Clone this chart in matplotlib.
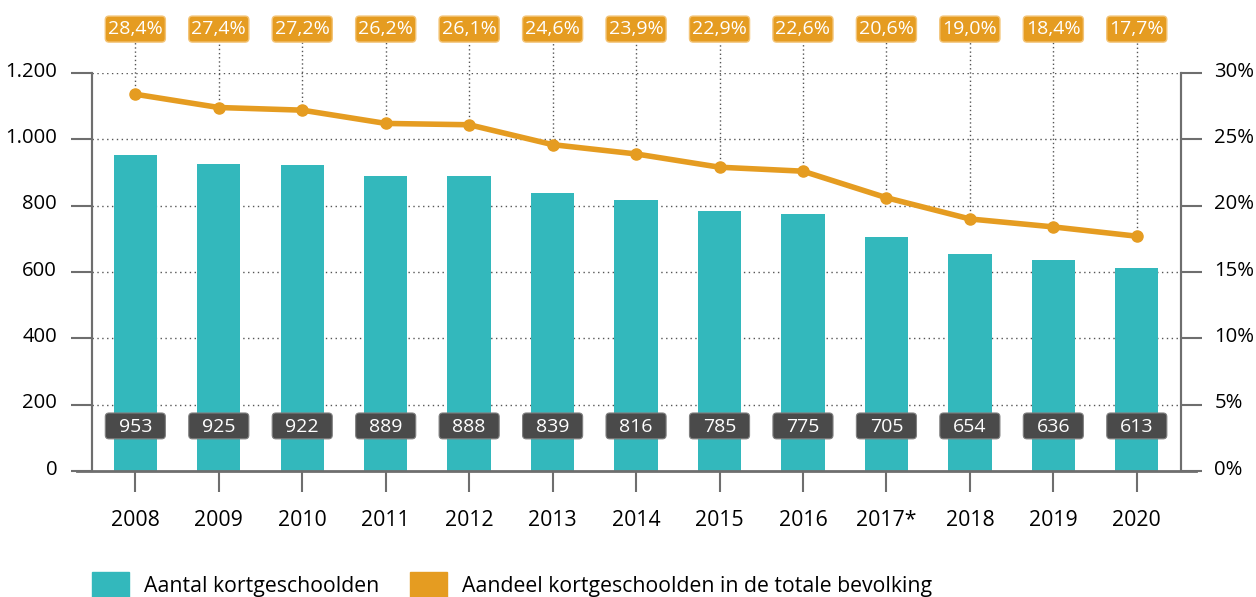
import numpy as np
import matplotlib.pyplot as plt
import matplotlib.transforms as mtransforms
from matplotlib.patches import Patch, FancyBboxPatch

plt.rcParams["font.family"] = ["Open Sans", "DejaVu Sans"]

years = ["2008", "2009", "2010", "2011", "2012", "2013", "2014",
         "2015", "2016", "2017*", "2018", "2019", "2020"]
aantal = [953, 925, 922, 889, 888, 839, 816, 785, 775, 705, 654, 636, 613]
aandeel = [28.4, 27.4, 27.2, 26.2, 26.1, 24.6, 23.9, 22.9, 22.6, 20.6, 19.0, 18.4, 17.7]

teal = "#33b8bc"
orange = "#e59c21"
dark = "#4a4a4a"
axis_col = "#6e6e6e"

fig = plt.figure(figsize=(12.56, 5.97), dpi=100)
ax = fig.add_axes([0.0732, 0.211, 0.8671, 0.6667])
ax2 = ax.twinx()

x = np.arange(len(years))
ax.bar(x, aantal, width=0.52, color=teal, zorder=2)
ax.set_xlim(-0.52, len(years) - 1 + 0.53)
ax.set_ylim(0, 1200)
ax.set_yticks(range(0, 1201, 200))
ax.set_yticklabels(["0", "200", "400", "600", "800", "1.000", "1.200"])
for y in range(200, 1201, 200):
    ax.axhline(y, color="#555555", lw=1, ls=(0, (1, 2.5)), zorder=1)

ax.set_xticks(x)
ax.set_xticklabels(years)

for a in (ax, ax2):
    a.spines["top"].set_visible(False)
    a.spines["bottom"].set_visible(False)
    a.spines["left"].set_color(axis_col)
    a.spines["right"].set_color(axis_col)
    a.spines["left"].set_linewidth(1.5)
    a.spines["right"].set_linewidth(1.5)

ax.axhline(0, xmin=-0.014, xmax=1.014, color=axis_col, lw=2, clip_on=False, zorder=3)
ax.tick_params(axis="y", length=15, width=1.5, color=axis_col, pad=10, labelsize=14.6)
ax.tick_params(axis="x", length=15, width=1.5, color=axis_col, pad=13, labelsize=15.3)

ax2.set_ylim(0, 30)
ax2.set_yticks(range(0, 31, 5))
ax2.set_yticklabels([f"{v}%" for v in range(0, 31, 5)])
ax2.tick_params(axis="y", length=15, width=1.5, color=axis_col, pad=9, labelsize=14.6)

# y labels sit a little above their tick in the original
up = mtransforms.ScaledTranslation(0, 4 / 100, fig.dpi_scale_trans)
for lab in ax.get_yticklabels() + ax2.get_yticklabels():
    lab.set_transform(lab.get_transform() + up)

ax2.plot(x, aandeel, color=orange, lw=4, marker="o", ms=8, zorder=4)

# dotted leaders up to the percentage boxes
ax2.vlines(x, aandeel, 32.3, color="#555555", lw=1, ls=(0, (1, 2)), clip_on=False, zorder=1)

bw = 0.72
# percentage boxes above the plot (ax2 units)
for xi, v in zip(x, aandeel):
    ax2.add_patch(FancyBboxPatch((xi - bw / 2, 32.33), bw, 1.96,
                                 boxstyle="round,pad=0,rounding_size=0.045",
                                 mutation_aspect=6.3, fc=orange, ec="#f3c477", lw=1,
                                 clip_on=False, zorder=5))
    ax2.text(xi, 33.28, f"{v:.1f}%".replace(".", ","), ha="center", va="center",
             color="white", fontsize=14, clip_on=False, zorder=6)

# value boxes on the bars (ax units)
for xi, v in zip(x, aantal):
    ax.add_patch(FancyBboxPatch((xi - bw / 2, 97), bw, 78,
                                boxstyle="round,pad=0,rounding_size=0.045",
                                mutation_aspect=251, fc=dark, ec="#808080", lw=0.8, zorder=5))
    ax.text(xi, 134, str(v), ha="center", va="center", color="white", fontsize=14, zorder=6)

handles = [Patch(color=teal, label="Aantal kortgeschoolden"),
           Patch(color=orange, label="Aandeel kortgeschoolden in de totale bevolking")]
fig.legend(handles=handles, loc="upper left", bbox_to_anchor=(0.0645, 0.06), ncol=2,
           frameon=False, fontsize=15.3, borderpad=0, handlelength=1.75, handleheight=1.5,
           handletextpad=0.7, columnspacing=1.45)

fig.savefig("out.png", dpi=100)
